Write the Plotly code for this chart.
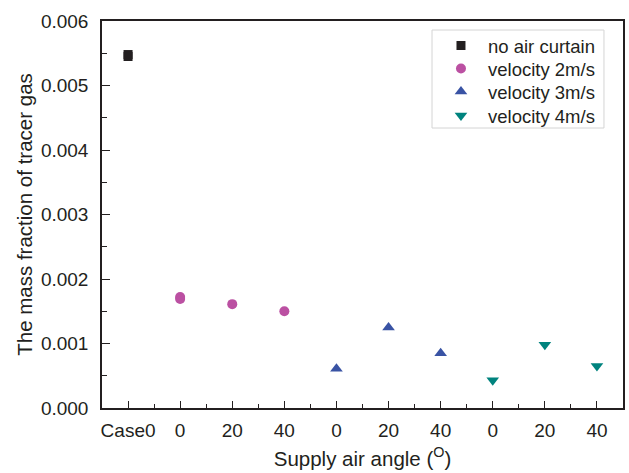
import plotly.graph_objects as go

# Category labels along the x axis (positions 1..10)
x_labels = ["Case0", "0", "20", "40", "0", "20", "40", "0", "20", "40"]
x_pos = list(range(1, len(x_labels) + 1))

# Series (x given as category index into x_labels, 0-based)
no_curtain_idx = [0, 0]
no_curtain_val = [0.00548, 0.00545]

v2_idx = [1, 1, 2, 3]
v2_val = [0.00172, 0.00169, 0.00161, 0.00150]

v3_idx = [4, 5, 6]
v3_val = [0.00061, 0.00125, 0.00085]

v4_idx = [7, 8, 9]
v4_val = [0.00043, 0.00098, 0.00065]

y_ticks = [0.000, 0.001, 0.002, 0.003, 0.004, 0.005, 0.006]
y_ticktext = ["0.000", "0.001", "0.002", "0.003", "0.004", "0.005", "0.006"]

ink = "#231f20"
font_family = "Liberation Sans, Arial, sans-serif"

fig = go.Figure()
fig.add_trace(go.Scatter(
    x=[x_pos[i] for i in no_curtain_idx], y=no_curtain_val, mode="markers",
    name="no air curtain", legend="legend",
    marker=dict(symbol="square", size=9, color=ink, line=dict(width=0))))
fig.add_trace(go.Scatter(
    x=[x_pos[i] for i in v2_idx], y=v2_val, mode="markers",
    name="velocity 2m/s", legend="legend2",
    marker=dict(symbol="circle", size=10, color="#bb50a2", line=dict(width=0))))
fig.add_trace(go.Scatter(
    x=[x_pos[i] for i in v3_idx], y=v3_val, mode="markers",
    name="velocity 3m/s", legend="legend3",
    marker=dict(symbol="triangle-up", size=11, color="#3953a4", line=dict(width=0))))
fig.add_trace(go.Scatter(
    x=[x_pos[i] for i in v4_idx], y=v4_val, mode="markers",
    name="velocity 4m/s", legend="legend4",
    marker=dict(symbol="triangle-down", size=11, color="#00837e", line=dict(width=0))))

def leg(yc):
    return dict(x=0.6372, xanchor="left", y=yc, yanchor="middle",
                borderwidth=0, bgcolor="rgba(0,0,0,0)",
                font=dict(size=18.5, color=ink), itemwidth=44)

fig.update_layout(
    width=629, height=473,
    margin=dict(l=102, r=6, t=21, b=65, autoexpand=False),
    paper_bgcolor="white", plot_bgcolor="white",
    font=dict(family=font_family, size=19, color=ink),
    showlegend=True,
    legend=leg(0.9354), legend2=leg(0.876), legend3=leg(0.8165), legend4=leg(0.7545),
    shapes=[dict(type="rect", xref="paper", yref="paper",
                 x0=0.6334, x1=0.9635, y0=0.7235, y1=0.9767,
                 line=dict(color="#d4d4d4", width=1), fillcolor="white", layer="below")],
)

fig.update_xaxes(
    range=[0.5, 10.5], automargin=False,
    tickmode="array", tickvals=x_pos, ticktext=x_labels,
    ticks="inside", ticklen=7, tickwidth=1.3, tickcolor=ink,
    minor=dict(tickmode="array", tickvals=[p + 0.5 for p in x_pos[:-1]],
               ticks="inside", ticklen=4, tickwidth=1.3, tickcolor=ink),
    showline=True, linecolor=ink, linewidth=1.5, mirror=True,
    showgrid=False, zeroline=False,
    tickfont=dict(size=19, color=ink),
    ticklabelstandoff=4,
    title=dict(text="Supply air angle (<sup>O</sup>)", font=dict(size=20.5, color=ink), standoff=12),
)
fig.update_yaxes(
    range=[0, 0.006], automargin=False,
    tickmode="array", tickvals=y_ticks, ticktext=y_ticktext,
    ticks="inside", ticklen=8, tickwidth=1.3, tickcolor=ink,
    minor=dict(dtick=0.0005, ticks="inside", ticklen=5, tickwidth=1.3, tickcolor=ink),
    showline=True, linecolor=ink, linewidth=1.5, mirror=True,
    showgrid=False, zeroline=False,
    tickfont=dict(size=19, color=ink),
    ticklabelstandoff=8,
    title=dict(text="The mass fraction of tracer gas", font=dict(size=20.5, color=ink), standoff=3),
)

fig.write_html("out.html", config={"displayModeBar": False},
               post_script="document.body.style.margin='0';document.body.style.overflow='hidden';")
